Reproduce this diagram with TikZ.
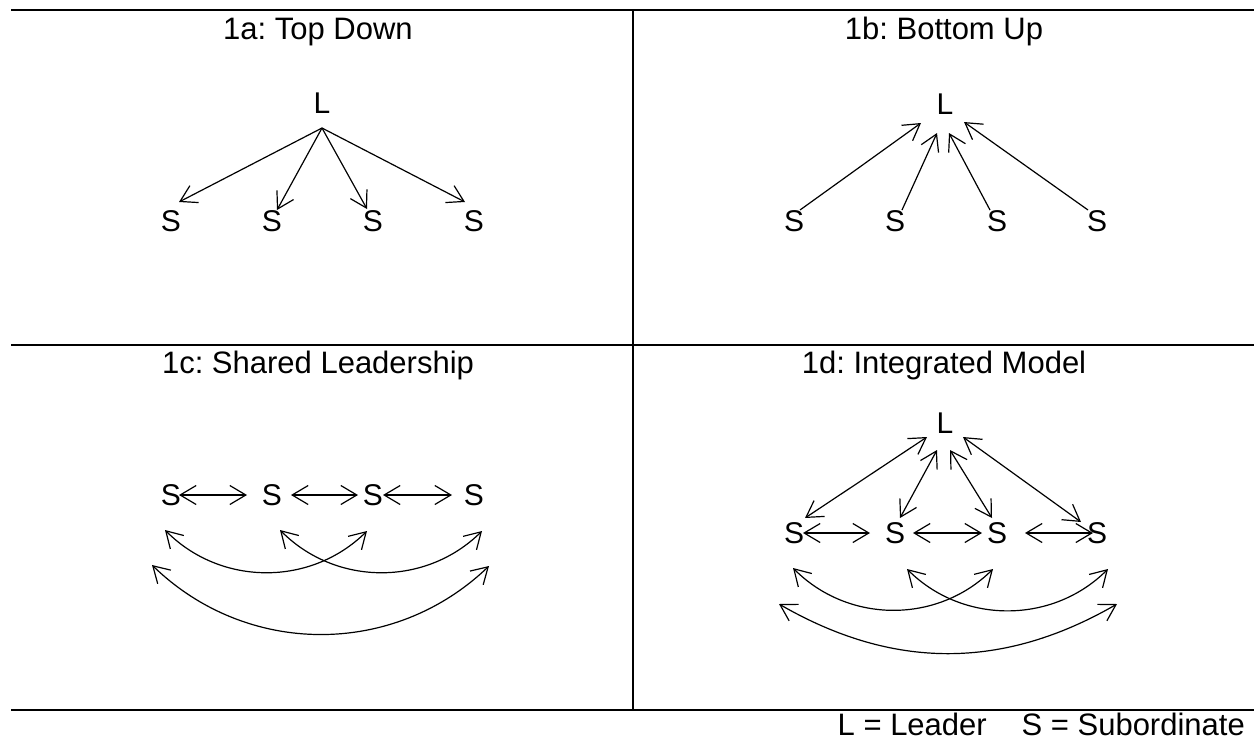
\documentclass[tikz,border=0pt]{standalone}
\usepackage{fontspec}
\setmainfont{Liberation Sans}
\usetikzlibrary{arrows.meta}
\frenchspacing
\begin{document}
\begin{tikzpicture}[x=1pt,y=-1pt,
  lbl/.style={inner sep=0pt, font=\fontsize{30}{36}\selectfont},
  ttl/.style={inner sep=0pt, anchor=base, font=\fontsize{31}{37}\selectfont},
  frame/.style={line width=2pt},
  arr/.style={line width=1.2pt, -{Straight Barb[length=16pt,width=19pt]}},
  darr/.style={line width=1.2pt, {Straight Barb[length=16pt,width=19pt]}-{Straight Barb[length=16pt,width=19pt]}},
]
\useasboundingbox (0,0) rectangle (1254,740);
% frame
\draw[frame] (11,10) -- (1254,10);
\draw[frame] (11,345) -- (1254,345);
\draw[frame] (11,710) -- (1254,710);
\draw[frame] (633,10) -- (633,710);

% titles
\node[ttl] (t1a) at (318,39) {1a: Top Down};
\node[ttl] (t1b) at (944,39) {1b: Bottom Up};
\node[ttl] (t1c) at (318,373) {1c: Shared Leadership};
\node[ttl] (t1d) at (944,373) {1d: Integrated Model};

% 1a
\node[lbl] (La) at (322,103) {L};
\node[lbl] (Sa1) at (171,221) {S};
\node[lbl] (Sa2) at (272,221) {S};
\node[lbl] (Sa3) at (373,221) {S};
\node[lbl] (Sa4) at (474,221) {S};
\draw[arr] ([yshift=-25pt]La.center) -- ([xshift=8pt,yshift=19pt]Sa1.center);
\draw[arr] ([yshift=-25pt]La.center) -- ([xshift=5pt,yshift=11pt]Sa2.center);
\draw[arr] ([yshift=-25pt]La.center) -- ([xshift=-6pt,yshift=12pt]Sa3.center);
\draw[arr] ([yshift=-25pt]La.center) -- ([xshift=-9pt,yshift=19pt]Sa4.center);

% 1b
\node[lbl] (Lb) at (945,104) {L};
\node[lbl] (Sb1) at (794,221) {S};
\node[lbl] (Sb2) at (895,221) {S};
\node[lbl] (Sb3) at (997,221) {S};
\node[lbl] (Sb4) at (1097,221) {S};
\draw[arr] ([xshift=6pt,yshift=11pt]Sb1.center) -- ([xshift=-24pt,yshift=-19pt]Lb.center);
\draw[arr] ([xshift=7pt,yshift=11pt]Sb2.center) -- ([xshift=-8pt,yshift=-29pt]Lb.center);
\draw[arr] ([xshift=-7pt,yshift=11pt]Sb3.center) -- ([xshift=4pt,yshift=-29pt]Lb.center);
\draw[arr] ([xshift=-9pt,yshift=11pt]Sb4.center) -- ([xshift=19pt,yshift=-18pt]Lb.center);

% 1c
\node[lbl] (Sc1) at (171,495) {S};
\node[lbl] (Sc2) at (272,495) {S};
\node[lbl] (Sc3) at (373,495) {S};
\node[lbl] (Sc4) at (474,495) {S};
\draw[darr] ([xshift=8pt]Sc1.center) -- ([xshift=-25pt]Sc2.center);
\draw[darr] ([xshift=19pt]Sc2.center) -- ([xshift=-15pt]Sc3.center);
\draw[darr] ([xshift=10pt]Sc3.center) -- ([xshift=-22pt]Sc4.center);
\draw[darr] ([xshift=-6pt,yshift=-35pt]Sc1.center) to[bend right=45] ([xshift=-6pt,yshift=-36pt]Sc3.center);
\draw[darr] ([xshift=8pt,yshift=-35pt]Sc2.center) to[bend right=45] ([xshift=8pt,yshift=-36pt]Sc4.center);
\draw[darr] ([xshift=-19pt,yshift=-70pt]Sc1.center) to[bend right=44] ([xshift=15pt,yshift=-71pt]Sc4.center);

% 1d
\node[lbl] (Ld) at (945,423) {L};
\node[lbl] (Sd1) at (794,533) {S};
\node[lbl] (Sd2) at (895,533) {S};
\node[lbl] (Sd3) at (997,533) {S};
\node[lbl] (Sd4) at (1097,533) {S};
\draw[darr] ([xshift=-18pt,yshift=-14pt]Ld.center) -- ([xshift=11pt,yshift=15pt]Sd1.center);
\draw[darr] ([xshift=-8pt,yshift=-27pt]Ld.center) -- ([xshift=5pt,yshift=15pt]Sd2.center);
\draw[darr] ([xshift=5pt,yshift=-27pt]Ld.center) -- ([xshift=-5pt,yshift=15pt]Sd3.center);
\draw[darr] ([xshift=18pt,yshift=-14pt]Ld.center) -- ([xshift=-16pt,yshift=11pt]Sd4.center);
\draw[darr] ([xshift=9pt]Sd1.center) -- ([xshift=-25pt]Sd2.center);
\draw[darr] ([xshift=18pt]Sd2.center) -- ([xshift=-15pt]Sd3.center);
\draw[darr] ([xshift=28pt]Sd3.center) -- ([xshift=-4pt]Sd4.center);
\draw[darr] ([xshift=-1pt,yshift=-35pt]Sd1.center) to[bend right=45] ([xshift=-4pt,yshift=-36pt]Sd3.center);
\draw[darr] ([xshift=12pt,yshift=-36pt]Sd2.center) to[bend right=45] ([xshift=11pt,yshift=-36pt]Sd4.center);
\draw[darr] ([xshift=-15pt,yshift=-71pt]Sd1.center) to[bend right=30] ([xshift=20pt,yshift=-71pt]Sd4.center);

% legend
\node[ttl, anchor=base east] (leg1) at (987,735) {L = Leader};
\node[ttl, anchor=base east] (leg2) at (1245,735) {S = Subordinate};
\end{tikzpicture}
\end{document}
